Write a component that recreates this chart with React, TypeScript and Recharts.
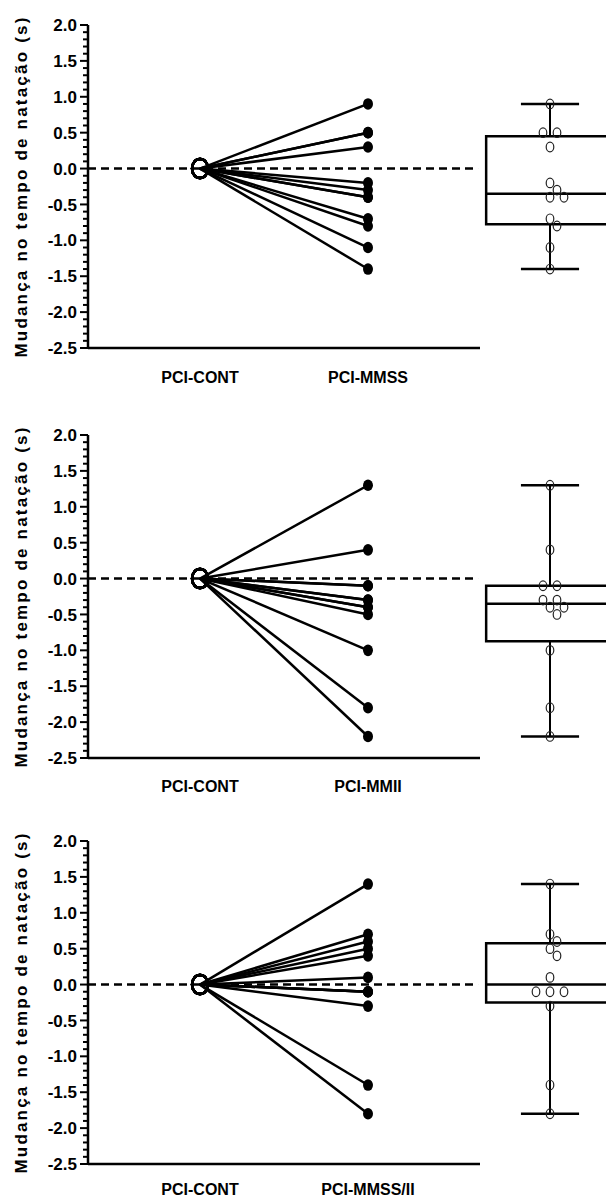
import React from 'react';
import {
  ComposedChart,
  Line,
  Scatter,
  XAxis,
  YAxis,
  ReferenceLine,
  ReferenceArea,
} from 'recharts';

// change in swim time (s), one value per subject
const mmssChange = [0.9, 0.5, 0.5, 0.3, -0.2, -0.3, -0.4, -0.4, -0.7, -0.8, -1.1, -1.4];
const mmiiChange = [1.3, 0.4, -0.1, -0.1, -0.3, -0.3, -0.4, -0.4, -0.5, -1.0, -1.8, -2.2];
const mmssIiChange = [1.4, 0.7, 0.6, 0.5, 0.4, 0.1, -0.1, -0.1, -0.1, -0.3, -1.4, -1.8];

const controlLabel = 'PCI-CONT';
const groupLabels = ['PCI-MMSS', 'PCI-MMII', 'PCI-MMSS/II'];
const yMajorTicks = [2.0, 1.5, 1.0, 0.5, 0.0, -0.5, -1.0, -1.5, -2.0, -2.5];
const yTitle = 'Mudança no tempo de natação (s)';

const panelValues = [mmssChange, mmiiChange, mmssIiChange];

// layout
const CHART_W = 606;
const PLOT_TOP = 25;
const PLOT_H = 323;
const AXIS_W = 88;
const XAXIS_H = 36;
const PANEL_TOPS = [0, 410, 816];
const PANEL_HEIGHTS = [400, 400, 384];
const LABEL_OFFSETS = [29, 28, 25];
const FONT = '"Liberation Sans", Arial, sans-serif';

const X_MIN = 1 / 3;
const X_MAX = 41 / 12;
const X_CONT = 1;
const X_GROUP = 2;
const X_BOX = 37 / 12;
const AXIS_END = 8 / 3;
const DASH_END = 2.655;
const BOX_HALF = 0.38;
const CAP_HALF = 0.173;
const Y_DOMAIN: [number, number] = [-2.5, 2];

// minor ticks every 0.1, labels only on the major ones
const allTicks: number[] = [];
for (let i = 0; i <= 45; i++) allTicks.push(Math.round((-2.5 + i * 0.1) * 10) / 10);
const isMajor = (v: number) => yMajorTicks.some((t) => Math.abs(t - v) < 1e-6);

function quantile(sorted: number[], p: number) {
  const n = sorted.length;
  const pos = (n + 1) * p;
  const lo = Math.floor(pos);
  const frac = pos - lo;
  if (lo < 1) return sorted[0];
  if (lo >= n) return sorted[n - 1];
  return sorted[lo - 1] + frac * (sorted[lo] - sorted[lo - 1]);
}

// simple beeswarm: spread equal / close values sideways (pixel offsets)
function dodge(values: number[], pxPerUnit: number) {
  const placed: { y: number; dx: number }[] = [];
  const result = new Array(values.length).fill(0);
  const order = values.map((_, i) => i).sort((a, b) => values[b] - values[a]);
  const shifts = [0, 7, -7, 14, -14, 21, -21, 28, -28];
  let k = 0;
  while (k < order.length) {
    let j = k;
    while (j < order.length && values[order[j]] === values[order[k]]) j++;
    const members = order.slice(k, j);
    const n = members.length;
    const base = members.map((_, m) => (m - (n - 1) / 2) * 14);
    const yPx = values[order[k]] * pxPerUnit;
    let chosen = 0;
    for (const s of shifts) {
      const ok = base.every((b) =>
        placed.every((p) => {
          const ddx = (b + s - p.dx) / 8;
          const ddy = (yPx - p.y) / 9.5;
          return ddx * ddx + ddy * ddy >= 1;
        })
      );
      if (ok) {
        chosen = s;
        break;
      }
    }
    members.forEach((idx, m) => {
      result[idx] = base[m] + chosen;
      placed.push({ y: yPx, dx: base[m] + chosen });
    });
    k = j;
  }
  return result;
}

function YTick(props: any) {
  const { x, y, payload } = props;
  const v = payload.value;
  const major = isMajor(v);
  return (
    <g>
      <line x1={x - (major ? 8 : 5)} x2={x} y1={y} y2={y} stroke="#000" strokeWidth={2} />
      {major && (
        <text
          x={x - 11}
          y={y}
          dy="0.36em"
          textAnchor="end"
          fontFamily={FONT}
          fontWeight="bold"
          fontSize={17}
          fill="#000"
        >
          {v.toFixed(1)}
        </text>
      )}
    </g>
  );
}

function XTick(props: any) {
  const { x, y, payload, group, offset } = props;
  const label = payload.value === X_CONT ? controlLabel : group;
  return (
    <text
      x={x}
      y={y + offset}
      dy="0.36em"
      textAnchor="middle"
      fontFamily={FONT}
      fontWeight="bold"
      fontSize={16}
      fill="#000"
    >
      {label}
    </text>
  );
}

function YTitle(props: any) {
  const vb = props.viewBox || { x: 0, y: PLOT_TOP, width: AXIS_W, height: PLOT_H };
  const cx = vb.x + 21;
  const cy = vb.y + vb.height / 2;
  return (
    <text
      x={cx}
      y={cy}
      transform={`rotate(-90, ${cx}, ${cy})`}
      textAnchor="middle"
      dominantBaseline="central"
      fontFamily={FONT}
      fontWeight="bold"
      fontSize={17}
      letterSpacing={2.2}
      fill="#000"
    >
      {yTitle}
    </text>
  );
}

function renderDot(props: any) {
  const { cx, cy, payload, index, dataKey } = props;
  if (cx == null || cy == null) return <g key={`${dataKey}-${index}`} />;
  if (payload.x === X_CONT) {
    return (
      <ellipse
        key={`${dataKey}-${index}`}
        cx={cx}
        cy={cy}
        rx={8}
        ry={9.5}
        fill="none"
        stroke="#000"
        strokeWidth={2.4}
      />
    );
  }
  return <ellipse key={`${dataKey}-${index}`} cx={cx} cy={cy} rx={5} ry={5.8} fill="#000" />;
}

function BoxDot(props: any) {
  const { cx, cy, payload } = props;
  return (
    <ellipse
      cx={cx + payload.dx}
      cy={cy}
      rx={3.8}
      ry={4.8}
      fill="none"
      stroke="#222"
      strokeWidth={1.2}
    />
  );
}

function Panel({
  values,
  group,
  top,
  height,
  labelOffset,
}: {
  values: number[];
  group: string;
  top: number;
  height: number;
  labelOffset: number;
}) {
  const lineData = [
    { x: X_CONT, ...Object.fromEntries(values.map((_, i) => [`s${i}`, 0])) },
    { x: X_GROUP, ...Object.fromEntries(values.map((v, i) => [`s${i}`, v])) },
  ];
  const sorted = [...values].sort((a, b) => a - b);
  const q1 = quantile(sorted, 0.25);
  const med = quantile(sorted, 0.5);
  const q3 = quantile(sorted, 0.75);
  const lo = sorted[0];
  const hi = sorted[sorted.length - 1];
  const offsets = dodge(values, PLOT_H / (Y_DOMAIN[1] - Y_DOMAIN[0]));
  const boxDots = values.map((v, i) => ({ x: X_BOX, y: v, dx: offsets[i] }));

  return (
    <div style={{ position: 'absolute', left: 0, top, width: CHART_W, height }}>
      <ComposedChart
        width={CHART_W}
        height={height}
        data={lineData}
        margin={{ top: PLOT_TOP, right: 0, bottom: height - PLOT_TOP - PLOT_H - XAXIS_H, left: 0 }}
      >
        <XAxis
          type="number"
          dataKey="x"
          domain={[X_MIN, X_MAX]}
          ticks={[X_CONT, X_GROUP]}
          interval={0}
          axisLine={false}
          tickLine={false}
          tickSize={0}
          tickMargin={0}
          height={XAXIS_H}
          allowDataOverflow
          tick={<XTick group={group} offset={labelOffset} />}
        />
        <YAxis
          type="number"
          domain={Y_DOMAIN}
          ticks={allTicks}
          interval={0}
          width={AXIS_W}
          tickSize={0}
          tickMargin={0}
          tickLine={false}
          axisLine={{ stroke: '#000', strokeWidth: 2.5 }}
          tick={<YTick />}
          allowDataOverflow
          label={<YTitle />}
        />
        <ReferenceLine
          segment={[{ x: X_MIN, y: 0 }, { x: DASH_END, y: 0 }]}
          stroke="#000"
          strokeWidth={2.5}
          strokeDasharray="8 5"
        />
        <ReferenceLine
          segment={[{ x: X_MIN, y: Y_DOMAIN[0] }, { x: AXIS_END, y: Y_DOMAIN[0] }]}
          stroke="#000"
          strokeWidth={2.5}
        />
        {/* box plot */}
        <ReferenceArea
          x1={X_BOX - BOX_HALF}
          x2={X_BOX + BOX_HALF}
          y1={q1}
          y2={q3}
          fill="none"
          stroke="#000"
          strokeWidth={2.5}
          ifOverflow="hidden"
        />
        <ReferenceLine
          segment={[{ x: X_BOX - BOX_HALF, y: med }, { x: X_BOX + BOX_HALF, y: med }]}
          stroke="#000"
          strokeWidth={2.5}
          ifOverflow="hidden"
        />
        <ReferenceLine
          segment={[{ x: X_BOX, y: q3 }, { x: X_BOX, y: hi }]}
          stroke="#000"
          strokeWidth={2}
        />
        <ReferenceLine
          segment={[{ x: X_BOX, y: lo }, { x: X_BOX, y: q1 }]}
          stroke="#000"
          strokeWidth={2}
        />
        <ReferenceLine
          segment={[{ x: X_BOX - CAP_HALF, y: hi }, { x: X_BOX + CAP_HALF, y: hi }]}
          stroke="#000"
          strokeWidth={2.5}
        />
        <ReferenceLine
          segment={[{ x: X_BOX - CAP_HALF, y: lo }, { x: X_BOX + CAP_HALF, y: lo }]}
          stroke="#000"
          strokeWidth={2.5}
        />
        {values.map((_, i) => (
          <Line
            key={i}
            type="linear"
            dataKey={`s${i}`}
            stroke="#000"
            strokeWidth={2.5}
            dot={renderDot}
            activeDot={false}
            isAnimationActive={false}
          />
        ))}
        <Scatter data={boxDots} dataKey="y" shape={<BoxDot />} isAnimationActive={false} />
      </ComposedChart>
    </div>
  );
}

export default function App() {
  return (
    <div style={{ position: 'absolute', left: 0, top: 0, width: CHART_W, height: 1200, background: '#fff' }}>
      {panelValues.map((values, i) => (
        <Panel
          key={i}
          values={values}
          group={groupLabels[i]}
          top={PANEL_TOPS[i]}
          height={PANEL_HEIGHTS[i]}
          labelOffset={LABEL_OFFSETS[i]}
        />
      ))}
    </div>
  );
}
